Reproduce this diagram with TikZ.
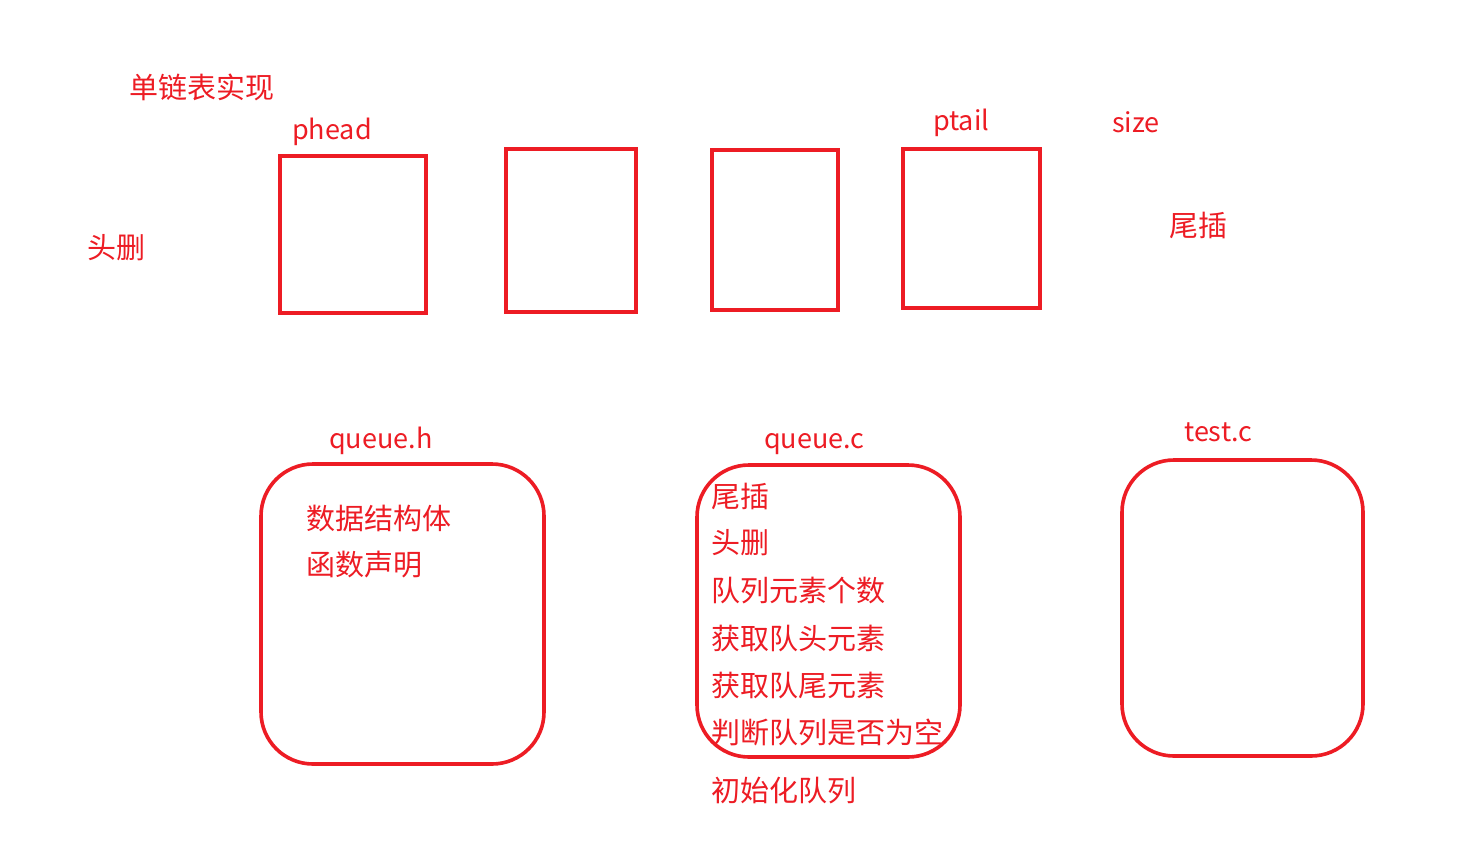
\documentclass[tikz,border=0pt]{standalone}
\usepackage{fontspec}
\setmainfont{Noto Sans CJK SC}
\definecolor{pred}{HTML}{ED1C24}
\begin{document}
\begin{tikzpicture}[x=1pt,y=-1pt,
  lbl/.style={text=pred,anchor=base west,inner sep=0pt,font=\fontsize{27}{32}\selectfont},
  cjk/.style={text=pred,anchor=west,inner sep=0pt,font=\fontsize{29}{34}\selectfont},
  sqbox/.style={draw=pred,line width=3.6pt,anchor=north west,inner sep=0pt,outer sep=0pt},
  rbox/.style={draw=pred,line width=3.6pt,anchor=north west,inner sep=0pt,outer sep=0pt,rounded corners=52pt}]
\useasboundingbox[fill=white] (0,0) rectangle (1483,855);
% top row
\node[cjk] (title) at (129,87) {单链表实现};
\node[lbl] (phead) at (292,139) {phead};
\node[lbl] (ptail) at (933,130) {ptail};
\node[lbl] (size) at (1112,132) {size};
\node[cjk] (hdel) at (87,248) {头删};
\node[cjk] (tins) at (1169,225) {尾插};
\node[sqbox,minimum width=146pt,minimum height=157pt] (b1) at (280,156) {};
\node[sqbox,minimum width=130pt,minimum height=163pt] (b2) at (506,149) {};
\node[sqbox,minimum width=126pt,minimum height=160pt] (b3) at (712,150) {};
\node[sqbox,minimum width=137pt,minimum height=159pt] (b4) at (903,149) {};
% bottom row
\node[lbl] (qh) at (329,448) {queue.h};
\node[lbl] (qc) at (764,448) {queue.c};
\node[lbl] (tc) at (1184,441) {test.c};
\node[rbox,minimum width=283pt,minimum height=300pt] (r1) at (261,464) {};
\node[rbox,minimum width=263pt,minimum height=292pt] (r2) at (697,465) {};
\node[rbox,minimum width=241pt,minimum height=296pt] (r3) at (1122,460) {};
\node[cjk] (h1) at (306,518) {数据结构体};
\node[cjk] (h2) at (306,565) {函数声明};
\node[cjk] (c1) at (711,496) {尾插};
\node[cjk] (c2) at (711,543) {头删};
\node[cjk] (c3) at (711,591) {队列元素个数};
\node[cjk] (c4) at (711,638) {获取队头元素};
\node[cjk] (c5) at (711,685) {获取队尾元素};
\node[cjk] (c6) at (711,732) {判断队列是否为空};
\node[cjk] (c7) at (711,791) {初始化队列};
\end{tikzpicture}
\end{document}
